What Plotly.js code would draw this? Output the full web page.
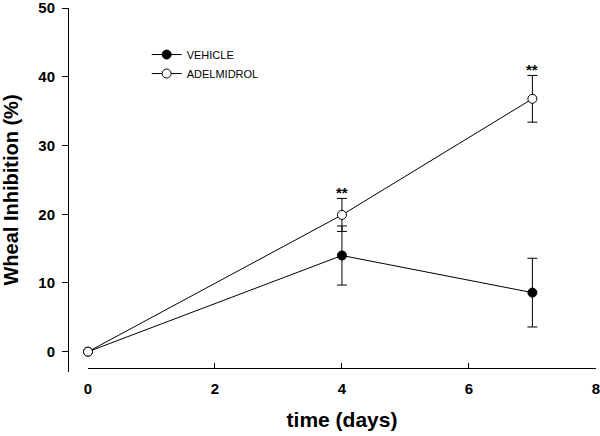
<!DOCTYPE html>
<html>
<head>
<meta charset="utf-8">
<script src="https://cdn.plot.ly/plotly-3.0.1.min.js"></script>
<style>html,body{margin:0;padding:0;background:#fff}</style>
</head>
<body>
<div id="chart" style="width:600px;height:436px"></div>
<script>
const days = [0, 4, 7];
const vehicle = [0, 14.0, 8.6];
const vehicleErr = [0, 4.3, 5.0];
const adelmidrol = [0, 19.9, 36.8];
const adelmidrolErr = [0, 2.4, 3.4];
const significance = ['', '**', '**'];
const xTicks = [0, 2, 4, 6, 8];
const yTicks = [0, 10, 20, 30, 40, 50];

const FONT = 'Arial, "Liberation Sans", Helvetica, sans-serif';

const traces = [
  {
    x: days, y: vehicle, name: 'VEHICLE', type: 'scatter', mode: 'lines+markers',
    cliponaxis: false,
    line: {color: '#000', width: 1},
    marker: {symbol: 'circle', size: 9, color: '#000', line: {color: '#000', width: 1}},
    error_y: {type: 'data', array: vehicleErr, visible: true, color: '#000', thickness: 1, width: 5}
  },
  {
    x: days, y: adelmidrol, name: 'ADELMIDROL', type: 'scatter', mode: 'lines+markers',
    cliponaxis: false,
    line: {color: '#000', width: 1},
    marker: {symbol: 'circle', size: 9, color: '#fff', line: {color: '#000', width: 1}},
    error_y: {type: 'data', array: adelmidrolErr, visible: true, color: '#000', thickness: 1, width: 5}
  }
];

const annotations = [];
days.forEach((d, i) => {
  if (significance[i]) {
    annotations.push({
      x: d, y: adelmidrol[i] + adelmidrolErr[i], xref: 'x', yref: 'y',
      text: significance[i], showarrow: false, yanchor: 'bottom', yshift: -5,
      font: {family: FONT, size: 15, color: '#000', weight: 'bold'}
    });
  }
});

const layout = {
  width: 600, height: 436,
  margin: {l: 68, r: 4, t: 8, b: 64, pad: 0},
  paper_bgcolor: '#fff', plot_bgcolor: '#fff',
  font: {family: FONT, color: '#000'},
  showlegend: true,
  legend: {
    x: 0.149, y: 0.912, xanchor: 'left', yanchor: 'top',
    bgcolor: 'rgba(0,0,0,0)', borderwidth: 0,
    font: {family: FONT, size: 11, color: '#000'},
    tracegroupgap: 0
  },
  xaxis: {
    domain: [20/528, 1], range: [0, 8.002],
    anchor: 'free', position: 4/364,
    tickvals: xTicks, ticktext: xTicks.map(String),
    ticks: 'inside', ticklen: 5, tickwidth: 1, tickcolor: '#000',
    ticklabelstandoff: 7, ticklabeloverflow: 'allow',
    showline: true, linecolor: '#000', linewidth: 1,
    showgrid: false, zeroline: false,
    tickfont: {family: FONT, size: 15, color: '#000', weight: 'bold'},
    title: {text: 'time (days)', font: {family: FONT, size: 21, color: '#000', weight: 'bold'}, standoff: 16}
  },
  yaxis: {
    domain: [0, 1], range: [-2.95, 50.01],
    anchor: 'free', position: 0,
    tickvals: yTicks, ticktext: yTicks.map(String),
    ticks: 'outside', ticklen: 6, tickwidth: 1, tickcolor: '#000',
    ticklabeloverflow: 'allow', ticklabelstandoff: 4,
    showline: true, linecolor: '#000', linewidth: 1,
    showgrid: false, zeroline: false,
    tickfont: {family: FONT, size: 15, color: '#000', weight: 'bold'},
    title: {text: 'Wheal Inhibition (%)', font: {family: FONT, size: 20, color: '#000', weight: 'bold'}, standoff: 14}
  },
  annotations: annotations
};

Plotly.newPlot('chart', traces, layout, {displayModeBar: false, staticPlot: true});
</script>
</body>
</html>
